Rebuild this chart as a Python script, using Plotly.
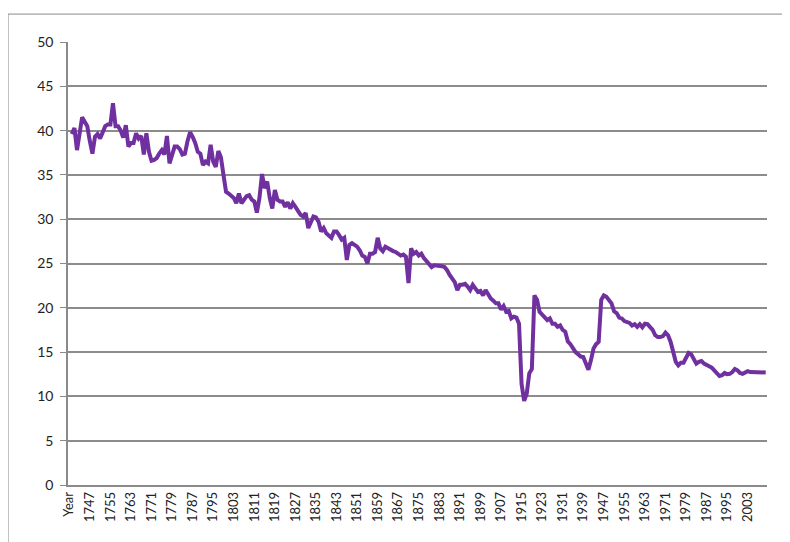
import plotly.graph_objects as go

years = list(range(1740, 2011))
rate = [
    # 1740-1759
    39.6, 40.3, 37.8, 39.9, 41.5, 41.0, 40.5, 38.8, 37.4, 39.3,
    39.6, 39.1, 39.7, 40.5, 40.7, 40.7, 43.1, 40.5, 40.5, 40.0,
    # 1760-1779
    39.2, 40.6, 38.2, 38.6, 38.6, 39.7, 39.1, 39.4, 37.3, 39.7,
    37.6, 36.6, 36.7, 36.9, 37.4, 37.8, 37.3, 39.4, 36.3, 37.3,
    # 1780-1799
    38.2, 38.2, 37.9, 37.3, 37.4, 38.8, 39.8, 39.3, 38.6, 37.6,
    37.4, 36.1, 36.5, 36.3, 38.4, 36.5, 35.9, 37.7, 37.0, 35.0,
    # 1800-1819
    33.1, 32.9, 32.6, 32.4, 31.8, 32.9, 31.8, 32.3, 32.6, 32.7,
    32.2, 32.0, 30.75, 32.4, 35.1, 33.5, 34.25, 32.4, 31.2, 33.3,
    # 1820-1839
    32.2, 32.0, 32.0, 31.4, 31.9, 31.2, 31.8, 31.4, 30.9, 30.5,
    30.3, 30.7, 29.0, 29.7, 30.3, 30.2, 29.7, 28.6, 29.0, 28.4,
    # 1840-1859
    28.2, 27.9, 28.6, 28.6, 28.2, 27.7, 27.9, 25.4, 27.1, 27.3,
    27.1, 26.9, 26.5, 25.9, 25.75, 25.0, 26.1, 26.1, 26.3, 27.9,
    # 1860-1879
    26.7, 26.4, 26.9, 26.7, 26.6, 26.4, 26.3, 26.1, 25.9, 26.0,
    25.75, 22.8, 26.7, 26.1, 26.3, 25.9, 26.1, 25.6, 25.3, 25.0,
    # 1880-1899
    24.6, 24.8, 24.8, 24.8, 24.7, 24.6, 24.25, 23.7, 23.2, 22.9,
    22.0, 22.6, 22.6, 22.7, 22.4, 22.0, 22.6, 22.1, 21.8, 21.9,
    # 1900-1919
    21.4, 22.0, 21.4, 21.05, 20.8, 20.5, 20.5, 19.8, 20.2, 19.55,
    19.65, 18.8, 19.0, 18.9, 18.2, 11.4, 9.5, 10.3, 12.6, 13.1,
    # 1920-1939
    21.4, 20.9, 19.55, 19.2, 19.0, 18.6, 18.8, 18.2, 18.2, 17.85,
    18.0, 17.5, 17.3, 16.2, 15.9, 15.4, 15.0, 14.75, 14.5, 14.45,
    # 1940-1959
    13.7, 13.0, 14.1, 15.4, 15.9, 16.15, 20.9, 21.4, 21.25, 20.9,
    20.5, 19.6, 19.4, 18.9, 18.8, 18.5, 18.4, 18.3, 18.0, 18.15,
    # 1960-1979
    17.85, 18.15, 17.8, 18.2, 18.15, 17.8, 17.5, 16.9, 16.7, 16.7,
    16.8, 17.2, 16.9, 16.15, 15.0, 13.9, 13.5, 13.8, 13.8, 14.25,
    # 1980-1999
    14.9, 14.75, 14.1, 13.7, 13.9, 14.0, 13.7, 13.6, 13.4, 13.25,
    12.95, 12.6, 12.3, 12.4, 12.65, 12.5, 12.55, 12.75, 13.1, 12.95,
    # 2000-2010
    12.65, 12.55, 12.65, 12.85, 12.75, 12.75, 12.7, 12.7, 12.75, 12.7,
    12.7,
]

categories = ["Year"] + [str(y) for y in years]
values = [None] + rate
tick_labels = categories[::8]
y_ticks = list(range(0, 51, 5))

fig = go.Figure()
fig.add_trace(go.Scatter(
    x=categories, y=values, mode="lines",
    line=dict(color="#7030A0", width=4),
    connectgaps=False, hoverinfo="skip",
))

border = dict(color="#8a8a8a", width=1)
# The page body has an 8px default margin, so the figure is 8px smaller
fig.update_layout(
    width=782, height=534,
    margin=dict(l=60, r=23, t=34, b=57),
    paper_bgcolor="white", plot_bgcolor="white",
    showlegend=False,
    font=dict(family="Lato, Open Sans, sans-serif", size=13, color="#222"),
    shapes=[
        dict(type="line", xref="paper", yref="paper",
             x0=-0.0858, x1=-0.0858, y0=-0.13, y1=1.063, line=border, layer="below"),
        dict(type="line", xref="paper", yref="paper",
             x0=-0.0858, x1=1.032, y0=1.063, y1=1.063, line=border, layer="below"),
    ],
)
fig.update_xaxes(
    type="category", categoryorder="array", categoryarray=categories,
    tickmode="array", tickvals=tick_labels, ticktext=tick_labels,
    tickangle=-90, showgrid=False, showline=True, linecolor="#8a8a8a", linewidth=1.5,
    ticks="", tickfont=dict(size=13), range=[-0.5, len(categories) - 0.5],
)
fig.update_yaxes(
    range=[0, 50], tickvals=y_ticks, showgrid=True, gridcolor="#8c8c8c", gridwidth=1.5,
    showline=True, linecolor="#8a8a8a", linewidth=1.5, ticks="outside", ticklen=6,
    tickcolor="#8a8a8a", tickfont=dict(size=14), zeroline=False, ticklabelstandoff=4,
)

fig.write_html("out.html", config={"displayModeBar": False})
